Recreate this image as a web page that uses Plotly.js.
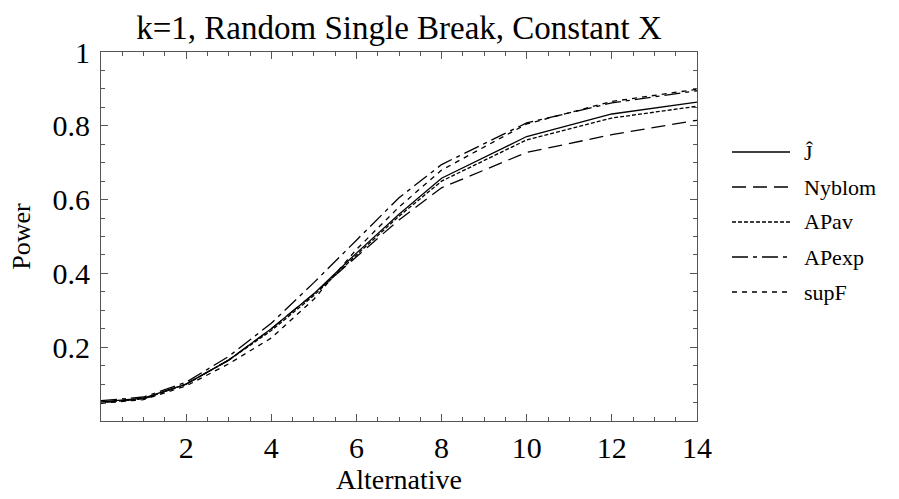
<!DOCTYPE html>
<html>
<head>
<meta charset="utf-8">
<script src="https://cdn.plot.ly/plotly-3.0.1.min.js"></script>
<style>html,body{margin:0;padding:0;background:#fff;}#chart{width:899px;height:499px;}</style>
</head>
<body>
<div id="chart"></div>
<script>
const alternative = [0, 1, 2, 3, 4, 5, 6, 7, 8, 10, 12, 14];
const jHat   = [0.052, 0.062, 0.100, 0.165, 0.250, 0.345, 0.455, 0.560, 0.658, 0.771, 0.832, 0.864];
const nyblom = [0.050, 0.060, 0.100, 0.165, 0.250, 0.345, 0.445, 0.545, 0.632, 0.728, 0.776, 0.815];
const apAv   = [0.050, 0.060, 0.100, 0.165, 0.245, 0.340, 0.450, 0.555, 0.650, 0.762, 0.821, 0.853];
const apExp  = [0.055, 0.065, 0.105, 0.175, 0.265, 0.375, 0.490, 0.605, 0.695, 0.808, 0.862, 0.895];
const supF   = [0.048, 0.058, 0.095, 0.155, 0.225, 0.330, 0.465, 0.580, 0.680, 0.805, 0.866, 0.899];

const seriesNames = ['\u0134', 'Nyblom', 'APav', 'APexp', 'supF'];
const seriesValues = [jHat, nyblom, apAv, apExp, supF];
const dashes = ['solid', '14px,7px', '4px,2px', '16px,5px,4px,5px', '5px,5px'];

const xTicks = [2, 4, 6, 8, 10, 12, 14];
const yTicks = [0.2, 0.4, 0.6, 0.8, 1];
const yTickText = ['0.2', '0.4', '0.6', '0.8', '1'];

const FONT = 'Liberation Serif, Times New Roman, serif';

const traces = seriesValues.map((vals, i) => ({
  x: alternative, y: vals, type: 'scatter', mode: 'lines', name: seriesNames[i],
  line: {color: '#000', width: 1.3, dash: dashes[i]}, showlegend: false, hoverinfo: 'skip'
}));

// manual legend (pixel geometry -> paper coordinates)
const L = 101, R = 697, T = 52, B = 421;
const px = v => (v - L) / (R - L);
const py = v => (B - v) / (B - T);
const legendY = [152, 187, 222, 257, 292];
const shapes = [], annotations = [];
legendY.forEach((yy, i) => {
  shapes.push({type: 'line', xref: 'paper', yref: 'paper', x0: px(732), x1: px(790), y0: py(yy), y1: py(yy),
    line: {color: '#000', width: 1.3, dash: dashes[i]}});
  annotations.push({xref: 'paper', yref: 'paper', x: px(802), y: py(yy), xanchor: 'left', yanchor: 'middle',
    text: seriesNames[i], showarrow: false, font: {family: FONT, size: 22, color: '#000'}});
});

const axisCommon = {
  showline: true, linecolor: '#555', linewidth: 1, mirror: 'ticks',
  ticks: 'inside', ticklen: 7, tickwidth: 1, tickcolor: '#555',
  showgrid: false, zeroline: false,
  tickfont: {family: FONT, size: 30, color: '#000'}
};

const layout = {
  width: 899, height: 499,
  margin: {l: L, r: 899 - R, t: T, b: 499 - B},
  paper_bgcolor: '#fff', plot_bgcolor: '#fff',
  title: {text: 'k=1, Random Single Break, Constant X', font: {family: FONT, size: 33, color: '#000'},
    x: 0.5 * (L + R) / 899, xanchor: 'center', y: 0.945, yanchor: 'middle'},
  xaxis: Object.assign({}, axisCommon, {
    range: [0, 14], tickvals: xTicks, ticktext: xTicks.map(String),
    minor: {dtick: 0.5, ticklen: 4, tickcolor: '#555', ticks: 'inside'},
    title: {text: 'Alternative', font: {family: FONT, size: 28, color: '#000'}, standoff: 6}
  }),
  yaxis: Object.assign({}, axisCommon, {
    range: [0, 1], tickvals: yTicks, ticktext: yTickText,
    minor: {dtick: 0.05, ticklen: 4, tickcolor: '#555', ticks: 'inside'},
    ticklabelstandoff: 4,
    title: {text: 'Power', font: {family: FONT, size: 26, color: '#000'}, standoff: 14}
  }),
  shapes: shapes, annotations: annotations, showlegend: false
};

Plotly.newPlot('chart', traces, layout, {displayModeBar: false, staticPlot: true});
</script>
</body>
</html>
